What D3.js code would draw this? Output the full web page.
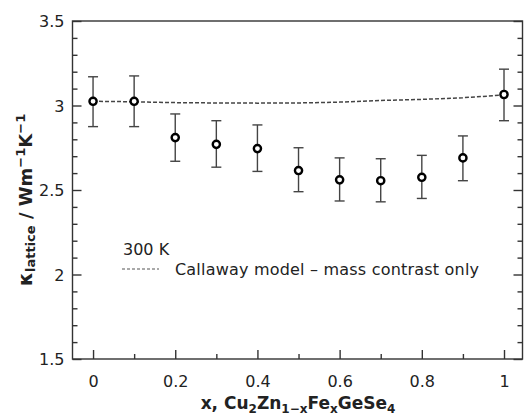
<!DOCTYPE html>
<html>
<head>
<meta charset="utf-8">
<script src="https://cdn.jsdelivr.net/npm/d3@7"></script>
<style>
  html, body { margin: 0; padding: 0; background: #fff; }
  svg { display: block; }
  text { font-family: "DejaVu Sans", sans-serif; fill: #222; }
</style>
</head>
<body>
<svg id="chart" width="524" height="416"></svg>
<script>
// Fe content x in Cu2Zn(1-x)FexGeSe4
const composition = [0, 0.1, 0.2, 0.3, 0.4, 0.5, 0.6, 0.7, 0.8, 0.9, 1.0];
// measured lattice thermal conductivity at 300 K (W m^-1 K^-1)
const kappaMeasured = [3.025, 3.025, 2.81, 2.77, 2.745, 2.615, 2.56, 2.555, 2.575, 2.69, 3.065];
// error bar upper / lower bounds
const kappaUpper = [3.17, 3.175, 2.95, 2.91, 2.885, 2.75, 2.69, 2.685, 2.705, 2.82, 3.215];
const kappaLower = [2.875, 2.875, 2.67, 2.635, 2.61, 2.49, 2.435, 2.43, 2.45, 2.555, 2.91];
// Callaway model prediction (mass contrast only)
const kappaCallaway = [3.025, 3.022, 3.017, 3.015, 3.014, 3.015, 3.02, 3.03, 3.036, 3.046, 3.062];

const xTicks = [0, 0.2, 0.4, 0.6, 0.8, 1];
const xMinorTicks = [0.1, 0.3, 0.5, 0.7, 0.9];
const yTicks = [1.5, 2, 2.5, 3, 3.5];
const yMinorTicks = d3.range(16, 35).map(v => v / 10).filter(v => !yTicks.some(t => Math.abs(t - v) < 1e-9));

const svg = d3.select("#chart");
const plotLeft = 72.5, plotRight = 522.5, plotTop = 21, plotBottom = 359;

const x = d3.scaleLinear().domain([-0.05, 1.045]).range([plotLeft, plotRight]);
const y = d3.scaleLinear().domain([1.5, 3.5]).range([plotBottom, plotTop]);

const axisColor = "#333";

// frame
svg.append("rect")
  .attr("x", plotLeft).attr("y", plotTop)
  .attr("width", plotRight - plotLeft).attr("height", plotBottom - plotTop)
  .attr("fill", "none").attr("stroke", axisColor).attr("stroke-width", 1.4);

function styleTicks(g) {
  g.select(".domain").remove();
  g.selectAll(".tick line").attr("stroke", axisColor).attr("stroke-width", 1.4);
}

// bottom axis: inward ticks
const gx = svg.append("g").attr("transform", `translate(0,${plotBottom})`)
  .call(d3.axisBottom(x).tickValues(xTicks).tickSize(-9).tickPadding(0).tickFormat(d3.format("")));
styleTicks(gx);
gx.selectAll(".tick text").attr("font-size", 16).attr("y", 28).attr("dy", 0).style("fill", "#222");

const gxMinor = svg.append("g").attr("transform", `translate(0,${plotBottom})`)
  .call(d3.axisBottom(x).tickValues(xMinorTicks).tickSize(-5).tickFormat(""));
styleTicks(gxMinor);

// left axis
const gy = svg.append("g").attr("transform", `translate(${plotLeft},0)`)
  .call(d3.axisLeft(y).tickValues(yTicks).tickSize(-9).tickPadding(0).tickFormat(d3.format("")));
styleTicks(gy);
gy.selectAll(".tick text").attr("font-size", 16).attr("x", -8).attr("dy", "0.36em").style("fill", "#222");

const gyMinor = svg.append("g").attr("transform", `translate(${plotLeft},0)`)
  .call(d3.axisLeft(y).tickValues(yMinorTicks).tickSize(-5).tickFormat(""));
styleTicks(gyMinor);

// right axis mirror ticks
const gr = svg.append("g").attr("transform", `translate(${plotRight},0)`)
  .call(d3.axisRight(y).tickValues(yTicks).tickSize(-9).tickFormat(""));
styleTicks(gr);
const grMinor = svg.append("g").attr("transform", `translate(${plotRight},0)`)
  .call(d3.axisRight(y).tickValues(yMinorTicks).tickSize(-5).tickFormat(""));
styleTicks(grMinor);

// Callaway model curve
const line = d3.line().x((d, i) => x(composition[i])).y(d => y(d));
svg.append("path")
  .datum(kappaCallaway)
  .attr("d", line)
  .attr("fill", "none")
  .attr("stroke", "#444")
  .attr("stroke-width", 1.5)
  .attr("stroke-dasharray", "4,2");

// error bars
const eb = svg.append("g").attr("stroke", "#444").attr("stroke-width", 1.4);
composition.forEach((c, i) => {
  const cx = x(c);
  eb.append("line").attr("x1", cx).attr("x2", cx).attr("y1", y(kappaUpper[i])).attr("y2", y(kappaLower[i]));
  eb.append("line").attr("x1", cx - 5).attr("x2", cx + 5).attr("y1", y(kappaUpper[i])).attr("y2", y(kappaUpper[i]));
  eb.append("line").attr("x1", cx - 5).attr("x2", cx + 5).attr("y1", y(kappaLower[i])).attr("y2", y(kappaLower[i]));
});

// measured points: open circles
svg.append("g").selectAll("circle")
  .data(kappaMeasured)
  .join("circle")
  .attr("cx", (d, i) => x(composition[i]))
  .attr("cy", d => y(d))
  .attr("r", 3.6)
  .attr("fill", "#fff")
  .attr("stroke", "#000")
  .attr("stroke-width", 2.4);

// legend
svg.append("text").attr("x", 123).attr("y", 255).attr("font-size", 16).text("300 K");
svg.append("line")
  .attr("x1", 122).attr("x2", 159).attr("y1", 269).attr("y2", 269)
  .attr("stroke", "#555").attr("stroke-width", 1.2).attr("stroke-dasharray", "3,2");
svg.append("text").attr("x", 175).attr("y", 275).attr("font-size", 16)
  .attr("textLength", 304)
  .text("Callaway model \u2013 mass contrast only");

// x axis title
const xt = svg.append("text")
  .attr("x", 298).attr("y", 409)
  .attr("text-anchor", "middle")
  .attr("font-size", 17).attr("font-weight", "bold");
xt.append("tspan").text("x, Cu");
xt.append("tspan").attr("font-size", 12).attr("dy", 4).text("2");
xt.append("tspan").attr("dy", -4).text("Zn");
xt.append("tspan").attr("font-size", 12).attr("dy", 4).text("1\u2212x");
xt.append("tspan").attr("dy", -4).text("Fe");
xt.append("tspan").attr("font-size", 12).attr("dy", 4).text("x");
xt.append("tspan").attr("dy", -4).text("GeSe");
xt.append("tspan").attr("font-size", 12).attr("dy", 4).text("4");

// y axis title
const yt = svg.append("text")
  .attr("transform", "translate(32,200) rotate(-90)")
  .attr("text-anchor", "middle")
  .attr("font-size", 18).attr("font-weight", "bold");
yt.append("tspan").attr("font-size", 20).text("\u03ba");
yt.append("tspan").attr("font-size", 13).attr("dy", 3).text("lattice");
yt.append("tspan").attr("dy", -3).text("  / Wm");
yt.append("tspan").attr("font-size", 13).attr("dy", -7).text("\u22121");
yt.append("tspan").attr("dy", 7).text("K");
yt.append("tspan").attr("font-size", 13).attr("dy", -7).text("\u22121");
</script>
</body>
</html>
